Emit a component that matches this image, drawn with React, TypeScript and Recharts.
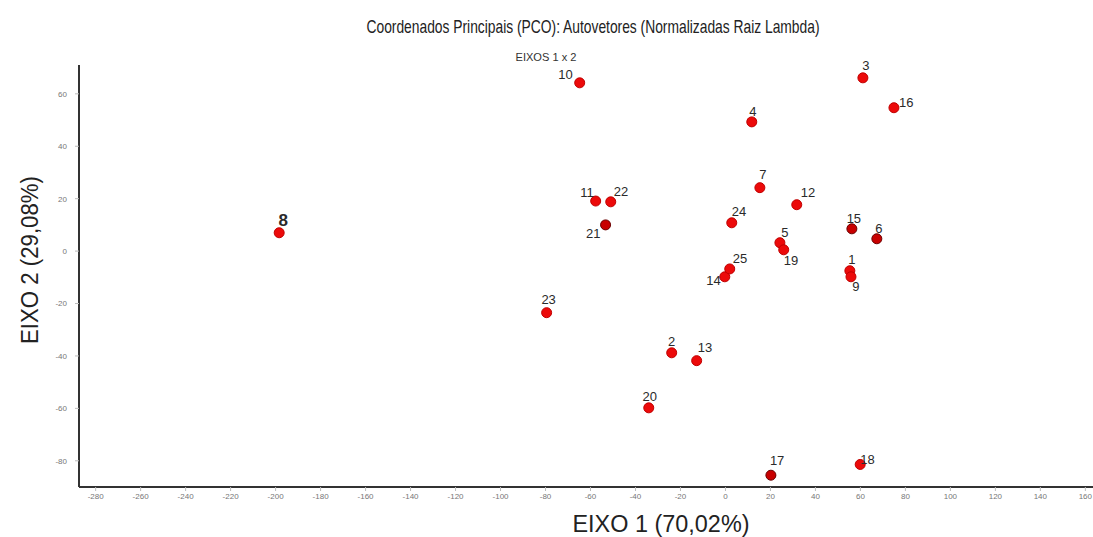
import React from 'react';
import { ScatterChart, Scatter, XAxis, YAxis } from 'recharts';

const pointLabels = ['1','2','3','4','5','6','7','8','9','10','11','12','13','14','15','16','17','18','19','20','21','22','23','24','25'];
const eixo1 = [55.3, -23.9, 61.1, 11.7, 24.2, 67.3, 15.3, -198.4, 55.8, -64.8, -57.7, 31.7, -12.8, -0.3, 56.2, 74.9, 20.2, 59.9, 25.9, -34.1, -53.3, -51.0, -79.5, 2.8, 1.9];
const eixo2 = [-7.5, -38.8, 66.1, 49.3, 3.2, 4.7, 24.2, 7.0, -9.8, 64.2, 19.1, 17.7, -41.8, -9.8, 8.5, 54.7, -85.5, -81.4, 0.5, -59.8, 10.0, 18.8, -23.5, 10.8, -6.8];
const xTicks = [-280, -260, -240, -220, -200, -180, -160, -140, -120, -100, -80, -60, -40, -20, 0, 20, 40, 60, 80, 100, 120, 140, 160];
const yTicks = [-80, -60, -40, -20, 0, 20, 40, 60];

const data = pointLabels.map((name, i) => ({ name, x: eixo1[i], y: eixo2[i] }));

// label placement: [text-anchor, dx, dy(center)]
const labelPlacement: Record<string, [string, number, number]> = {
  '1': ['middle', 2, -11],
  '2': ['middle', 0, -11],
  '3': ['middle', 3, -12],
  '4': ['middle', 1, -10],
  '5': ['middle', 5, -10],
  '6': ['middle', 2, -10],
  '7': ['middle', 3, -13],
  '8': ['middle', 4, -12],
  '9': ['middle', 5, 10],
  '10': ['end', -7, -8],
  '11': ['end', -2, -9],
  '12': ['start', 4, -12],
  '13': ['start', 1, -13],
  '14': ['end', -4, 4],
  '15': ['middle', 2, -10],
  '16': ['start', 5, -5],
  '17': ['start', -1, -15],
  '18': ['start', 0, -5],
  '19': ['start', 0, 11],
  '20': ['middle', 1, -11],
  '21': ['end', -5, 9],
  '22': ['start', 3, -10],
  '23': ['middle', 2, -13],
  '24': ['start', 0, -11],
  '25': ['start', 3, -10],
};
const darkPoints = ['21', '15', '6', '17'];

const PointShape = (props: any) => {
  const { cx, cy, payload } = props;
  if (cx == null || cy == null) return null;
  const name = payload.name as string;
  const pl = labelPlacement[name] || ['middle', 0, -11];
  const dark = darkPoints.includes(name);
  const big = name === '8';
  return (
    <g>
      <circle cx={cx} cy={cy} r={5} fill={dark ? '#c80000' : '#ec0a0a'} stroke={dark ? '#6a0000' : '#c00000'} strokeWidth={1} />
      <text
        x={cx + pl[1]}
        y={cy + pl[2]}
        textAnchor={pl[0] as any}
        dominantBaseline="central"
        fontFamily="'Liberation Sans', Arial, sans-serif"
        fontSize={big ? 17 : 13}
        fontWeight={big ? 'bold' : 'normal'}
        fill="#2a2a2a"
      >
        {name}
      </text>
    </g>
  );
};

const tickStyle = { fontSize: 8, fill: '#777', fontFamily: "'Liberation Sans', Arial, sans-serif" };

export default function App() {
  return (
    <div style={{ position: 'absolute', left: 0, top: 0, width: 1093, height: 537, background: '#fff' }}>
      <ScatterChart width={1093} height={537} margin={{ top: 65, right: 0, bottom: 0, left: 0 }}>
        <XAxis
          type="number"
          dataKey="x"
          domain={[-287.4, 163.4]}
          ticks={xTicks}
          height={50}
          tick={tickStyle}
          tickSize={4}
          tickLine={{ stroke: '#bbb' }}
          axisLine={{ stroke: '#333', strokeWidth: 2 }}
          interval={0}
        />
        <YAxis
          type="number"
          dataKey="y"
          domain={[-90, 71]}
          ticks={yTicks}
          width={79}
          tick={tickStyle}
          tickSize={4}
          tickMargin={8}
          tickLine={{ stroke: '#bbb' }}
          axisLine={{ stroke: '#333', strokeWidth: 2 }}
          interval={0}
        />
        <Scatter data={data} shape={PointShape} isAnimationActive={false} />
      </ScatterChart>
      <svg width={1093} height={537} style={{ position: 'absolute', left: 0, top: 0, pointerEvents: 'none' }}>
        <text x={593} y={33} textAnchor="middle" fontFamily="'Liberation Sans Narrow', 'Liberation Sans', Arial, sans-serif" fontSize={19} fill="#222" textLength={453} lengthAdjust="spacingAndGlyphs">
          Coordenados Principais (PCO): Autovetores (Normalizadas Raiz Lambda)
        </text>
        <text x={546} y={61} textAnchor="middle" fontFamily="'Liberation Sans', Arial, sans-serif" fontSize={11} fill="#333" textLength={61} lengthAdjust="spacingAndGlyphs">
          EIXOS 1 x 2
        </text>
        <text x={661} y={532} textAnchor="middle" fontFamily="'Liberation Sans', Arial, sans-serif" fontSize={23} fill="#222" textLength={177} lengthAdjust="spacingAndGlyphs">
          EIXO 1 (70,02%)
        </text>
        <text x={0} y={0} transform="translate(38,260) rotate(-90)" textAnchor="middle" fontFamily="'Liberation Sans', Arial, sans-serif" fontSize={23} fill="#222" textLength={168} lengthAdjust="spacingAndGlyphs">
          EIXO 2 (29,08%)
        </text>
      </svg>
    </div>
  );
}
